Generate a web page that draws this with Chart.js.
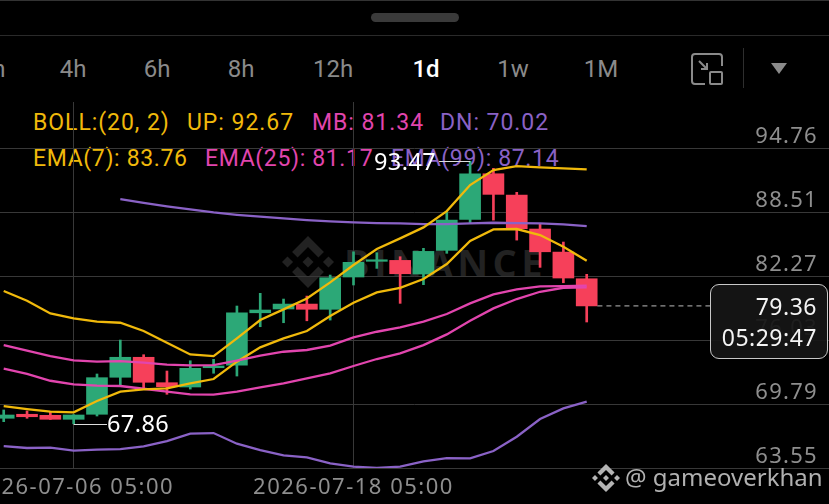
<!DOCTYPE html>
<html>
<head>
<meta charset="utf-8">
<script src="https://cdn.jsdelivr.net/npm/chart.js@4/dist/chart.umd.min.js"></script>
<style>
  html, body { margin: 0; padding: 0; background: #000; width: 829px; height: 504px; overflow: hidden; }
  body { position: relative; font-family: Roboto, sans-serif; }
  .abs { position: absolute; white-space: nowrap; line-height: 1; }
  #chart { position: absolute; left: 0; top: 0; z-index: 2; }
  .tab { top: 57px; font-size: 24px; color: #8a8a8a; transform: translateX(-50%); }
  .leg { font-size: 23px; letter-spacing: 0.65px; }
  .wide { letter-spacing: 0.95px; }
  .y { color: #f0b90b; } .m { color: #e245ae; } .p { color: #8a62c6; }
  #priceBox { left: 710px; top: 284px; width: 116px; height: 73px; border: 1.5px solid #c8c8c8; border-radius: 9px;
    background: rgba(22,22,22,0.93); z-index: 3; }
  #priceBox div { position: absolute; right: 10px; color: #f4f4f4; font-size: 23px; line-height: 1; letter-spacing: 0.5px; font-family: "Noto Sans", sans-serif; }
</style>
</head>
<body>
<div class="abs" style="left:0;top:0;width:829px;height:1px;background:#333"></div>
<div class="abs" style="left:371px;top:13px;width:88px;height:9px;border-radius:5px;background:#3a3a3a"></div>
<div class="abs" style="left:0;top:35px;width:829px;height:1px;background:#2a2a2a"></div>

<div class="abs tab" style="left:-8px">1h</div>
<div class="abs tab" style="left:73px">4h</div>
<div class="abs tab" style="left:157px">6h</div>
<div class="abs tab" style="left:241px">8h</div>
<div class="abs tab" style="left:333px">12h</div>
<div class="abs tab" style="left:426px;color:#fff;font-weight:500">1d</div>
<div class="abs tab" style="left:513px">1w</div>
<div class="abs tab" style="left:601px">1M</div>
<svg class="abs" style="left:691px;top:53px" width="32" height="32" viewBox="0 0 32 32" fill="none" stroke="#8a8a8a" stroke-width="2">
  <path d="M1 24V4a3 3 0 0 1 3-3h24a3 3 0 0 1 3 3v9M14 31H4a3 3 0 0 1-3-3v-4"/>
  <rect x="19" y="19" width="12" height="12" rx="1"/>
  <path d="M8 8l8 8M16 10v6h-6"/>
</svg>
<div class="abs" style="left:743px;top:48px;width:1px;height:40px;background:#2e2e2e"></div>
<svg class="abs" style="left:771px;top:63px" width="16" height="11"><polygon points="0,0 16,0 8,11" fill="#8a8a8a"/></svg>

<div class="abs leg wide y" style="left:33px;top:111px">BOLL:(20, 2)</div>
<div class="abs leg wide y" style="left:187px;top:111px">UP: 92.67</div>
<div class="abs leg wide m" style="left:312px;top:111px">MB: 81.34</div>
<div class="abs leg wide p" style="left:440px;top:111px">DN: 70.02</div>
<div class="abs leg y" style="left:33px;top:147px">EMA(7): 83.76</div>
<div class="abs leg m" style="left:205px;top:147px">EMA(25): 81.17</div>
<div class="abs leg p" style="left:391px;top:147px">EMA(99): 87.14</div>

<svg class="abs" style="left:282px;top:236px" width="52" height="52" viewBox="0 0 32 32" fill="#222">
  <polygon points="16,12.6 19.4,16 16,19.4 12.6,16"/>
  <polygon points="0,16 3.4,12.6 6.8,16 3.4,19.4"/>
  <polygon points="25.2,16 28.6,12.6 32,16 28.6,19.4"/>
  <polygon points="16,0 25.8,9.8 22.4,13.2 16,6.8 9.6,13.2 6.2,9.8"/>
  <polygon points="16,32 6.2,22.2 9.6,18.8 16,25.2 22.4,18.8 25.8,22.2"/>
</svg>
<div class="abs" style="left:344px;top:243px;font-size:38px;font-weight:700;color:#222;letter-spacing:4.5px;font-family:'Open Sans',sans-serif">BINANCE</div>

<canvas id="chart" width="829" height="504"></canvas>

<div class="abs" id="priceBox">
  <div id="lastPrice" style="top:10px"></div>
  <div id="countdown" style="top:41px"></div>
</div>

<svg class="abs" style="left:592px;top:464px;z-index:3" width="28" height="28" viewBox="0 0 32 32" fill="#b4b4b4">
  <polygon points="16,12.6 19.4,16 16,19.4 12.6,16"/>
  <polygon points="0,16 3.4,12.6 6.8,16 3.4,19.4"/>
  <polygon points="25.2,16 28.6,12.6 32,16 28.6,19.4"/>
  <polygon points="16,0 25.8,9.8 22.4,13.2 16,6.8 9.6,13.2 6.2,9.8"/>
  <polygon points="16,32 6.2,22.2 9.6,18.8 16,25.2 22.4,18.8 25.8,22.2"/>
</svg>
<div class="abs" style="left:625px;top:465px;font-size:24px;color:#b0b0b0;font-family:'Noto Sans',sans-serif;z-index:3">@ gameoverkhan</div>

<script>
// candles, index 3 = 07-06, index 15 = 07-18
const opens  = [68.40,68.79,68.69,68.30,68.79,72.40,74.35,71.87,71.45,73.33,73.59,78.69,79.06,79.54,79.03,82.18,83.71,83.80,82.47,84.78,87.80,92.25,90.17,86.86,84.61,82.01];
const closes = [68.72,68.55,68.30,68.72,72.36,74.35,71.91,71.48,73.27,73.50,78.69,78.96,79.54,79.03,82.11,83.61,83.86,82.50,84.68,87.73,92.25,90.24,86.89,84.64,82.08,79.36];
const highs  = [69.21,69.11,69.04,68.75,72.72,76.03,74.60,73.01,74.01,74.15,79.35,80.59,80.03,80.32,82.37,84.64,84.55,84.16,84.98,88.54,93.47,92.78,90.44,87.34,85.59,82.44];
const lows   = [68.07,68.40,68.28,67.86,68.62,71.64,71.22,70.74,71.25,72.79,72.52,77.33,77.72,77.91,77.98,81.40,83.02,79.61,81.43,84.49,87.47,87.73,85.78,83.12,81.62,77.79];

const bollUp = [80.81,79.87,78.63,78.14,77.82,77.72,76.91,75.77,74.63,74.47,76.19,77.98,79.02,80.09,81.65,83.35,84.91,85.95,87.02,88.61,91.15,92.61,93.00,92.87,92.77,92.67];
const bollMb = [75.54,74.99,74.47,74.05,73.92,73.98,73.82,73.63,73.56,73.59,74.02,74.50,74.89,75.06,75.48,76.29,76.84,77.27,77.82,78.57,79.61,80.48,80.97,81.26,81.30,81.34];
const bollDn = [65.69,65.50,65.53,65.24,65.34,65.40,65.66,66.18,66.90,66.96,65.92,65.30,64.78,64.59,64.00,63.68,63.55,63.68,64.20,64.52,64.49,65.21,66.60,68.33,69.37,70.02];
const ema7   = [69.59,69.30,69.04,68.98,70.08,70.99,71.22,71.32,71.81,72.23,73.92,75.32,76.19,76.91,78.37,79.67,80.68,81.13,81.98,83.44,85.69,86.82,86.86,86.27,85.13,83.76];
const ema25  = [73.24,72.72,72.06,71.71,71.58,71.55,71.28,70.99,70.73,70.70,70.99,71.41,71.81,72.29,72.78,73.50,74.18,74.73,75.54,76.58,77.92,79.12,80.03,80.74,81.13,81.17];
const ema99  = [null,null,null,null,null,89.78,89.42,89.07,88.77,88.48,88.25,88.06,87.90,87.73,87.60,87.51,87.44,87.41,87.34,87.34,87.41,87.47,87.44,87.41,87.31,87.14];

const priceTicks = [94.76, 88.51, 82.27, 76.03, 69.79, 63.55];
const dateTickIdx = [3, 15];
const dateTicks = ['2026-07-06 05:00', '2026-07-18 05:00'];
const lastPrice = 79.36;
const countdown = '05:29:47';
const markHigh = { i: 20, value: 93.47, labelEnd: 18.54 };
const markLow = { i: 3, value: 67.86, labelStart: 4.43 };

const GREEN = '#2ca877', RED = '#f6405a', YELLOW = '#f0b90b', PINK = '#e245ae', PURPLE = '#8a62c6';

document.getElementById('lastPrice').textContent = lastPrice.toFixed(2);
document.getElementById('countdown').textContent = countdown;

const idx = opens.map((_, i) => i);
const candleColor = idx.map(i => closes[i] >= opens[i] ? GREEN : RED);

function lineSet(values, color) {
    return {
        type: 'line',
        data: values.map((v, i) => ({ x: i, y: v })),
        borderColor: color,
        borderWidth: 2.3,
        pointRadius: 0,
        tension: 0,
        spanGaps: false,
        order: 1
    };
}

// high and low callouts and the date labels; the first date runs off the left edge
// and real x tick labels would make the scale pull itself in to fit it
const overlays = {
    id: 'overlays',
    beforeDraw(chart) {
        // axis text in the app is set a bit wider than the installed fonts
        chart.ctx.letterSpacing = '1.3px';
    },
    afterDatasetsDraw(chart) {
        const { ctx, scales: { x, y } } = chart;
        ctx.save();
        ctx.font = '22px "Noto Sans", sans-serif';
        ctx.fillStyle = '#8e8e8e';
        ctx.textBaseline = 'middle';
        ctx.textAlign = 'center';
        ctx.letterSpacing = '1.5px';
        dateTickIdx.forEach((v, k) => ctx.fillText(dateTicks[k], x.getPixelForValue(v), 488));

        ctx.font = '23.5px "Noto Sans", sans-serif';
        ctx.letterSpacing = '0.4px';
        ctx.fillStyle = '#fff';
        ctx.strokeStyle = '#ddd';
        ctx.lineWidth = 1;

        const hy = Math.round(y.getPixelForValue(markHigh.value)) + 0.5;
        const hx = x.getPixelForValue(markHigh.labelEnd);
        ctx.beginPath();
        ctx.moveTo(hx + 3, hy);
        ctx.lineTo(x.getPixelForValue(markHigh.i), hy);
        ctx.stroke();
        ctx.textAlign = 'right';
        ctx.fillText(markHigh.value.toFixed(2), hx, hy + 2);

        const ly = Math.round(y.getPixelForValue(markLow.value)) + 0.5;
        const lx = x.getPixelForValue(markLow.labelStart);
        ctx.beginPath();
        ctx.moveTo(x.getPixelForValue(markLow.i), ly);
        ctx.lineTo(lx, ly);
        ctx.stroke();
        ctx.textAlign = 'left';
        ctx.fillText(markLow.value.toFixed(2), lx, ly + 1);
        ctx.restore();
    }
};

new Chart(document.getElementById('chart'), {
    data: {
        datasets: [
            lineSet(bollUp, YELLOW),
            lineSet(bollMb, PINK),
            lineSet(bollDn, PURPLE),
            lineSet(ema7, YELLOW),
            lineSet(ema25, PINK),
            lineSet(ema99, PURPLE),
            {
                // last price guide
                type: 'line',
                data: [{ x: 25.46, y: lastPrice }, { x: 30.3, y: lastPrice }],
                borderColor: '#bdbdbd',
                borderWidth: 1,
                borderDash: [5, 4],
                pointRadius: 0,
                order: 1
            },
            {
                type: 'bar',
                data: idx.map(i => ({ x: i, y: [opens[i], closes[i]] })),
                backgroundColor: candleColor,
                barThickness: 21,
                grouped: false,
                order: 2
            },
            {
                type: 'bar',
                data: idx.map(i => ({ x: i, y: [lows[i], highs[i]] })),
                backgroundColor: candleColor,
                barThickness: 2,
                grouped: false,
                order: 3
            }
        ]
    },
    options: {
        responsive: false,
        animation: false,
        devicePixelRatio: 1,
        layout: { autoPadding: false, padding: { top: 102, bottom: 36 } },
        plugins: { legend: { display: false }, tooltip: { enabled: false } },
        scales: {
            x: {
                type: 'linear',
                offset: false,
                min: -0.159,
                max: 35.39,
                border: { display: false },
                grid: { color: '#383838', drawTicks: false, offset: false },
                afterBuildTicks: s => { s.ticks = dateTickIdx.map(v => ({ value: v })); },
                ticks: { display: false }
            },
            y: {
                position: 'right',
                min: 63.55,
                max: 99.25,
                border: { display: false },
                grid: { color: '#383838', drawTicks: false },
                afterBuildTicks: s => { s.ticks = priceTicks.map(v => ({ value: v })); },
                afterFit: s => { s.width = 0; },
                ticks: {
                    mirror: true,
                    padding: -11,
                    labelOffset: -11,
                    color: '#8e8e8e',
                    font: { family: '"Noto Sans", sans-serif', size: 22 },
                    callback: v => v.toFixed(2)
                }
            }
        }
    },
    plugins: [overlays]
});
</script>
</body>
</html>
